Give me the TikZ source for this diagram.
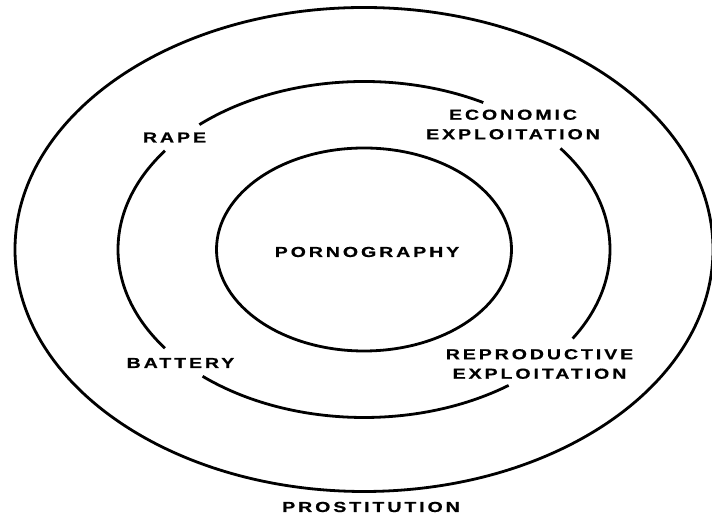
\documentclass[tikz,border=0pt]{standalone}
\usepackage{fontspec}
\newfontfamily\lblfam{Liberation Sans}[FakeStretch=1.35, FakeBold=0.6, LetterSpace=20]
\usepackage{tikz}

\begin{document}
\begin{tikzpicture}[
    x=1pt, y=1pt,
    ring/.style={line width=2.8pt},
    lbl/.style={font=\lblfam\bfseries\fontsize{14.5}{19.5}\selectfont,
                align=center, inner sep=0pt}
  ]
  \useasboundingbox (0,0) rectangle (712,518);
  \coordinate (c) at (364,268.5);

  % outer and inner rings
  \draw[ring] (c) ellipse [x radius=349, y radius=242];
  \draw[ring] (c) ellipse [x radius=147.5, y radius=101.5];

  % middle ring, broken at the labels
  \foreach \a/\b in {61/132, 144/216, 229/306, -32/37}
    \draw[ring] (c) ++(\a:246 and 168)
      arc[start angle=\a, end angle=\b, x radius=246, y radius=168];

  \node[lbl] (porn)  at (367,266)   {PORNOGRAPHY};
  \node[lbl] (rape)  at (174.5,380.5) {RAPE};
  \node[lbl] (econ)  at (513,393.5) {ECONOMIC\\EXPLOITATION};
  \node[lbl] (batt)  at (180.5,155)   {BATTERY};
  \node[lbl] (repro) at (539.5,154)   {REPRODUCTIVE\\EXPLOITATION};
  \node[lbl] (prost) at (371,11)    {PROSTITUTION};
\end{tikzpicture}
\end{document}
